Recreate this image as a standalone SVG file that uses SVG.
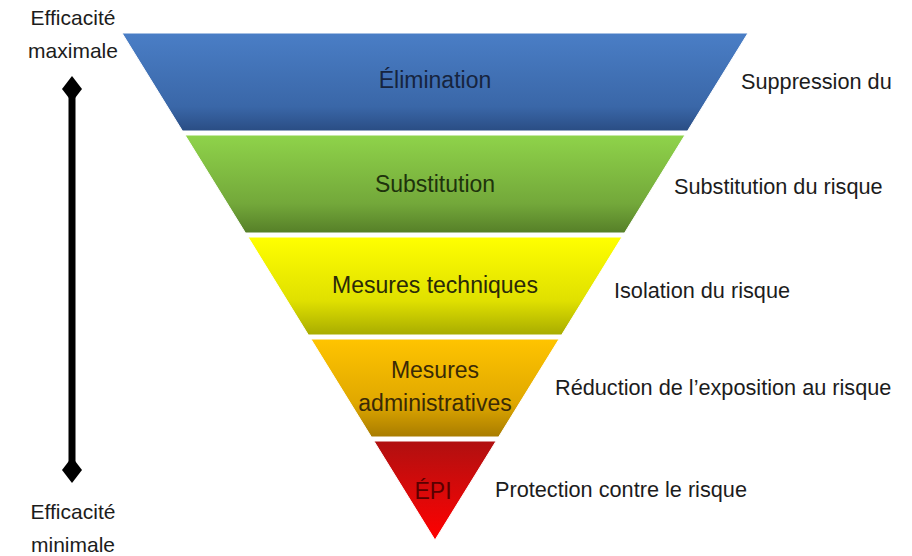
<svg xmlns="http://www.w3.org/2000/svg" width="912" height="556" viewBox="0 0 912 556">
  <defs>
    <linearGradient id="gBlue" x1="0" y1="0" x2="0" y2="1">
      <stop offset="0" stop-color="#4a7ec6"/>
      <stop offset="0.75" stop-color="#3a67a8"/>
      <stop offset="1" stop-color="#2a4d84"/>
    </linearGradient>
    <linearGradient id="gGreen" x1="0" y1="0" x2="0" y2="1">
      <stop offset="0" stop-color="#8fd34a"/>
      <stop offset="0.7" stop-color="#73a83a"/>
      <stop offset="1" stop-color="#567f28"/>
    </linearGradient>
    <linearGradient id="gYellow" x1="0" y1="0" x2="0" y2="1">
      <stop offset="0" stop-color="#ffff00"/>
      <stop offset="0.65" stop-color="#e0e000"/>
      <stop offset="1" stop-color="#a8ac00"/>
    </linearGradient>
    <linearGradient id="gOrange" x1="0" y1="0" x2="0" y2="1">
      <stop offset="0" stop-color="#ffc400"/>
      <stop offset="0.65" stop-color="#e0a800"/>
      <stop offset="1" stop-color="#a87c00"/>
    </linearGradient>
    <linearGradient id="gRed" x1="0" y1="0" x2="0" y2="1">
      <stop offset="0" stop-color="#b01010"/>
      <stop offset="0.6" stop-color="#e00808"/>
      <stop offset="1" stop-color="#ff0000"/>
    </linearGradient>
  </defs>
  <style>
    text { font-family: "Liberation Sans", Arial, sans-serif; }
    .band-label { font-size: 23px; text-anchor: middle; }
    .side { font-size: 21.7px; fill: #1c1c1c; }
    .axis { font-size: 21px; fill: #1c1c1c; text-anchor: middle; }
    .band { stroke: #ffffff; stroke-width: 1; }
  </style>

  <rect width="912" height="556" fill="#ffffff"/>

  <!-- efficiency axis -->
  <g id="axis">
    <text class="axis" x="73" y="25">Efficacité</text>
    <text class="axis" x="73" y="58">maximale</text>
    <line x1="72" y1="90" x2="72" y2="468" stroke="#000000" stroke-width="7"/>
    <polygon points="72,76 82,89 72,102 62,89" fill="#000000"/>
    <polygon points="72,457 82,470 72,483 62,470" fill="#000000"/>
    <text class="axis" x="73" y="519">Efficacité</text>
    <text class="axis" x="73" y="552">minimale</text>
  </g>

  <!-- hierarchy bands -->
  <g id="elimination">
    <polygon class="band" points="122,33 748,33 687.5,131 182.5,131" fill="url(#gBlue)"/>
    <text class="band-label" x="435" y="88" fill="#16243e">Élimination</text>
    <text class="side" x="741" y="89">Suppression du</text>
  </g>
  <g id="substitution">
    <polygon class="band" points="185,135 685,135 624.5,233 245.5,233" fill="url(#gGreen)"/>
    <text class="band-label" x="435" y="192" fill="#1e330c">Substitution</text>
    <text class="side" x="674" y="194">Substitution du risque</text>
  </g>
  <g id="techniques">
    <polygon class="band" points="248,237 622,237 561.6,335 308.4,335" fill="url(#gYellow)"/>
    <text class="band-label" x="435" y="293" fill="#2a2a08">Mesures techniques</text>
    <text class="side" x="614" y="298">Isolation du risque</text>
  </g>
  <g id="administratives">
    <polygon class="band" points="310.9,339 559.1,339 498.6,437 371.4,437" fill="url(#gOrange)"/>
    <text class="band-label" x="435" y="378" fill="#3a2a06">Mesures</text>
    <text class="band-label" x="435" y="411" fill="#3a2a06">administratives</text>
    <text class="side" x="555" y="395">Réduction de l’exposition au risque</text>
  </g>
  <g id="epi">
    <polygon class="band" points="373.9,441 496.1,441 435,540" fill="url(#gRed)"/>
    <text class="band-label" x="433" y="499" fill="#5a0000">ÉPI</text>
    <text class="side" x="495" y="497">Protection contre le risque</text>
  </g>
</svg>
